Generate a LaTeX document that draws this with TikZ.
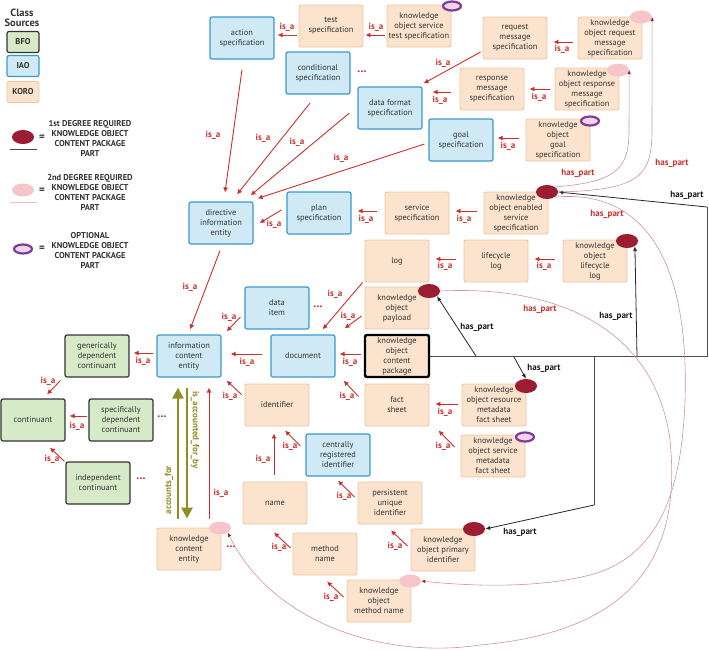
\documentclass[tikz,border=0pt]{standalone}
\usepackage{fontspec}
\setmainfont{PT Sans}
\usetikzlibrary{arrows.meta,calc,shapes.geometric}
\definecolor{bfofill}{HTML}{D6EAC8}
\definecolor{bfodraw}{HTML}{333333}
\definecolor{iaofill}{HTML}{CFEAF4}
\definecolor{iaodraw}{HTML}{3A9AD0}
\definecolor{korofill}{HTML}{FCE3CD}
\definecolor{korodraw}{HTML}{F0C6A0}
\definecolor{isared}{HTML}{C9302C}
\definecolor{maroonc}{HTML}{9C1C32}
\definecolor{pinkell}{HTML}{F6C5CA}
\definecolor{pinkline}{HTML}{CF9499}
\definecolor{purp}{HTML}{7D3C98}
\definecolor{purpfill}{HTML}{F2D4EA}
\definecolor{olivec}{HTML}{8E8E22}
\definecolor{txt}{HTML}{333333}
\begin{document}
\begin{tikzpicture}[x={(1pt,0pt)},y={(0pt,-1pt)},
  box/.style={rectangle, rounded corners=2pt, minimum width=64pt, minimum height=42pt, inner sep=1pt, align=center, font=\fontsize{8.4}{10}\selectfont, text=txt},
  bfo/.style={box, fill=bfofill, draw=bfodraw, line width=1.2pt},
  iao/.style={box, fill=iaofill, draw=iaodraw, line width=1.2pt},
  koro/.style={box, fill=korofill, draw=korodraw, line width=0.9pt},
  lbox/.style={rectangle, rounded corners=2pt, minimum width=32pt, minimum height=21pt, inner sep=0pt, font=\fontsize{8.5}{9}\selectfont\bfseries, text=txt},
  isa/.style={draw=isared, line width=0.9pt, -{Latex[length=5pt,width=5pt]}},
  isal/.style={text=isared, inner sep=0pt, font=\fontsize{9}{10}\selectfont\bfseries},
  hpb/.style={draw=black!85, line width=0.8pt, -{Latex[length=5pt,width=4pt]}},
  hpline/.style={draw=black!70, line width=1pt},
  hpl/.style={inner sep=0pt, text=black!90, font=\fontsize{9}{10}\selectfont\bfseries},
  hpp/.style={draw=pinkline, line width=0.6pt, -{Latex[length=4pt,width=3.5pt,color=maroonc]}},
  hppl/.style={inner sep=0pt, text=isared, font=\fontsize{9}{10}\selectfont\bfseries},
  dotsn/.style={inner sep=0pt, text=isared, font=\fontsize{12}{12}\selectfont\bfseries},
  eone/.style={ellipse, fill=maroonc, minimum width=22pt, minimum height=14pt, inner sep=0pt},
  etwo/.style={ellipse, fill=pinkell, minimum width=22pt, minimum height=13pt, inner sep=0pt},
  eopt/.style={ellipse, draw=purp, line width=2.2pt, fill=purpfill, minimum width=18pt, minimum height=9pt, inner sep=0pt},
  legt/.style={align=center, inner sep=0pt, text=txt, font=\fontsize{8.5}{10}\selectfont\bfseries},
  olv/.style={draw=olivec, line width=2.6pt, -{Triangle[length=11pt,width=11pt]}},
  olvl/.style={inner sep=0pt, text=olivec, font=\fontsize{9}{10}\selectfont\bfseries}
]
\useasboundingbox (0,0) rectangle (709,649);

% ---------- legend ----------
\node[align=center, text=txt, font=\fontsize{10.5}{10}\selectfont\bfseries] (cs) at (22,18) {Class\\Sources};
\node[lbox, fill=bfofill, draw=bfodraw, line width=1.2pt] (lbfo) at (23,42) {BFO};
\node[lbox, fill=iaofill, draw=iaodraw, line width=1.2pt] (liao) at (23,66) {IAO};
\node[lbox, fill=korofill, draw=korodraw, line width=0.9pt] (lkoro) at (23,92) {KORO};
\node[eone] (l1) at (23,137) {};
\draw[black!70, line width=1pt] ($(l1.south)+(-13,5.5)$) -- ($(l1.south)+(14,5.5)$);
\node[inner sep=0pt, font=\fontsize{11}{11}\selectfont\bfseries, text=txt] (eq1) at (42,138) {=};
\node[legt] (lt1) at (90,138) {1st DEGREE REQUIRED\\KNOWLEDGE OBJECT\\CONTENT PACKAGE\\PART};
\node[etwo] (l2) at (23,190) {};
\draw[pinkell!80!pinkline, line width=1pt] ($(l2.south)+(-13,5.5)$) -- ($(l2.south)+(14,5.5)$);
\node[inner sep=0pt, font=\fontsize{11}{11}\selectfont\bfseries, text=txt] (eq2) at (42,191) {=};
\node[legt] (lt2) at (90,192) {2nd DEGREE REQUIRED\\KNOWLEDGE OBJECT\\CONTENT PACKAGE\\PART};
\node[eopt] (l3) at (23,249) {};
\node[inner sep=0pt, font=\fontsize{11}{11}\selectfont\bfseries, text=txt] (eq3) at (42,249) {=};
\node[legt] (lt3) at (90,250) {OPTIONAL\\KNOWLEDGE OBJECT\\CONTENT PACKAGE\\PART};

% ---------- boxes ----------
\node[iao] (act) at (242,38) {action\\specification};
\node[koro] (tst) at (331,26) {test\\specification};
\node[koro] (kost) at (419,26) {knowledge\\object service\\test specification};
\node[iao] (cond) at (318,73) {conditional\\specification};
\node[iao] (dfs) at (390,108) {data format\\specification};
\node[iao] (goal) at (461,140) {goal\\specification};
\node[koro] (req) at (515,38) {request\\message\\specification};
\node[koro] (kor) at (610,38) {knowledge\\object request\\message\\specification};
\node[koro] (resp) at (492,89) {response\\message\\specification};
\node[koro] (kors) at (587,89) {knowledge\\object response\\message\\specification};
\node[koro] (kog) at (558,140) {knowledge\\object\\goal\\specification};
\node[iao] (dir) at (221,223) {directive\\information\\entity};
\node[iao] (plan) at (319,213) {plan\\specification};
\node[koro] (svc) at (417,213) {service\\specification};
\node[koro] (koes) at (516,213) {knowledge\\object enabled\\service\\specification};
\node[koro] (log) at (397,261) {log};
\node[koro] (lcl) at (496,261) {lifecycle\\log};
\node[koro] (kol) at (595,261) {knowledge\\object\\lifecycle\\log};
\node[iao] (ditem) at (277,308) {data\\item};
\node[koro] (kop) at (397,308) {knowledge\\object\\payload};
\node[iao] (ice) at (189,356) {information\\content\\entity};
\node[iao] (doc) at (303,356) {document};
\node[box, fill=korofill, draw=black, line width=2.4pt] (pkg) at (397,356) {knowledge\\object\\content\\package};
\node[bfo] (gdc) at (97,356) {generically\\dependent\\continuant};
\node[bfo] (cont) at (33,420) {continuant};
\node[bfo] (sdc) at (121,420) {specifically\\dependent\\continuant};
\node[bfo] (indc) at (98,483) {independent\\continuant};
\node[koro] (ident) at (277,405) {identifier};
\node[koro] (fs) at (397,405) {fact\\sheet};
\node[koro] (korm) at (494,405) {knowledge\\object resource\\metadata\\fact sheet};
\node[koro] (kosm) at (493,456) {knowledge\\object service\\metadata\\fact sheet};
\node[iao] (cri) at (338,455) {centrally\\registered\\identifier};
\node[koro] (name) at (275,503) {name};
\node[koro] (pui) at (390,503) {persistent\\unique\\identifier};
\node[koro] (mname) at (325,554) {method\\name};
\node[koro] (kopi) at (443,550) {knowledge\\object primary\\identifier};
\node[koro] (komn) at (379,601) {knowledge\\object\\method name};
\node[koro] (kce) at (189,549) {knowledge\\content\\entity};

% ---------- part markers ----------
\node[eopt] (kostE) at (452,6) {};
\node[etwo] (korE) at (641,17) {};
\node[etwo] (korsE) at (618,70) {};
\node[eopt] (kogE) at (590,121) {};
\node[eone] (koesE) at (547,192) {};
\node[eone] (kolE) at (627,241) {};
\node[eone] (kopE) at (429,291) {};
\node[eone] (kormE) at (526,386) {};
\node[eopt] (kosmE) at (525,437) {};
\node[eone] (kopiE) at (474,529) {};
\node[etwo] (komnE) at (410,581) {};
\node[etwo] (kceE) at (220,528) {};

% ---------- dots ----------
\node[dotsn] (d1) at (362,72) {...};
\node[dotsn] (d2) at (318,307) {...};
\node[dotsn] (d3) at (162,417) {...};
\node[dotsn] (d4) at (141,479) {...};
\node[dotsn] (d5) at (231,547) {...};

% ---------- is_a ----------
\draw[isa] ($(tst.west)+(-2,9)$) -- ($(act.east)+(3,-3)$);
\node[isal] (i1) at (287,27) {is\_a};
\draw[isa] ($(kost.west)+(-2,9)$) -- ($(tst.east)+(2,9)$);
\node[isal] (i2) at (376,27) {is\_a};
\draw[isa] ($(act.south)+(0,10)$) -- ($(dir.north)+(4,-9)$);
\node[isal] (i3) at (213,135) {is\_a};
\draw[isa] ($(cond.south)+(-8,8.5)$) -- ($(dir.north)+(16,-7)$);
\node[isal] (i4) at (263,138) {is\_a};
\draw[isa] ($(dfs.west)+(-8,5)$) -- ($(dir.north east)+(-3,-6)$);
\node[isal] (i5) at (297,142) {is\_a};
\draw[isa] ($(goal.west)+(-4,4)$) -- ($(dir.north east)+(4,-3)$);
\node[isal] (i6) at (341,158) {is\_a};
\draw[isa] ($(req.west)+(-2,14)$) -- ($(dfs.north east)+(1,-3)$);
\node[isal] (i7) at (443,63) {is\_a};
\draw[isa] ($(resp.west)+(-9,3)$) -- ($(dfs.east)+(10,-16)$);
\node[isal] (i8) at (440,100) {is\_a};
\draw[isa] ($(kor.west)+(-5,4)$) -- ($(req.east)+(6,4)$);
\node[isal] (i9) at (562,49) {is\_a};
\draw[isa] ($(kors.west)+(-5,0)$) -- ($(resp.east)+(5,0)$);
\node[isal] (i10) at (539,97) {is\_a};
\draw[isa] ($(kog.west)+(-7,-2)$) -- ($(goal.east)+(4,-2)$);
\node[isal] (i11) at (508,146) {is\_a};
\draw[isa] ($(plan.west)+(-5,-3)$) -- ($(dir.east)+(6,0)$);
\node[isal] (i12) at (274,224) {is\_a};
\draw[isa] ($(svc.west)+(-8,-2)$) -- ($(plan.east)+(6,-2)$);
\node[isal] (i13) at (366,219) {is\_a};
\draw[isa] ($(koes.west)+(-7,-2)$) -- ($(svc.east)+(6,-2)$);
\node[isal] (i14) at (464,219) {is\_a};
\draw[isa] ($(dir.south)+(-1,6)$) -- ($(ice.north)+(1,-5)$);
\node[isal] (i15) at (190,287) {is\_a};
\draw[isa] ($(lcl.west)+(-8,-2)$) -- ($(log.east)+(6,-2)$);
\node[isal] (i16) at (445,266) {is\_a};
\draw[isa] ($(kol.west)+(-8,-2)$) -- ($(lcl.east)+(6,-2)$);
\node[isal] (i17) at (544,266) {is\_a};
\draw[isa] ($(log.south west)+(-2,0)$) -- ($(doc.north east)+(-13,-5)$);
\node[isal] (i18) at (335,294) {is\_a};
\draw[isa] ($(kop.west)+(-3,8)$) -- ($(doc.north east)+(9,-6)$);
\node[isal] (i19) at (348,316) {is\_a};
\draw[isa] ($(ditem.west)+(-4,9)$) -- ($(ice.north east)+(5,-3)$);
\node[isal] (i20) at (229,317) {is\_a};
\draw[isa] ($(doc.west)+(-8,-2)$) -- ($(ice.east)+(9,-2)$);
\node[isal] (i21) at (247,362) {is\_a};
\draw[isa] ($(pkg.west)+(-3,-2)$) -- ($(doc.east)+(4,-2)$);
\node[isal] (i22) at (350,362) {is\_a};
\draw[isa] ($(ice.west)+(-3,-3)$) -- ($(gdc.east)+(4,-3)$);
\node[isal] (i23) at (143,361) {is\_a};
\draw[isa] ($(gdc.south west)+(-4,3)$) -- ($(cont.north)+(14,-4)$);
\node[isal] (i24) at (48,381) {is\_a};
\draw[isa] ($(sdc.west)+(-1,-4)$) -- ($(cont.east)+(4,-4)$);
\node[isal] (i25) at (77,426) {is\_a};
\draw[isa] ($(indc.north west)+(-1,0)$) -- ($(cont.south)+(17,6)$);
\node[isal] (i26) at (52,459) {is\_a};
\draw[isa] ($(ident.north west)+(-3,11)$) -- ($(ice.south east)+(5,3)$);
\node[isal] (i27) at (230,396) {is\_a};
\draw[isa] ($(fs.north west)+(-6,13)$) -- ($(doc.south east)+(8,3)$);
\node[isal] (i28) at (347,396) {is\_a};
\draw[isa] ($(korm.west)+(-4,-1)$) -- ($(fs.east)+(6,-1)$);
\node[isal] (i29) at (445,412) {is\_a};
\draw[isa] ($(kosm.west)+(-6,-9)$) -- ($(fs.south east)+(9,4)$);
\node[isal] (i30) at (443,446) {is\_a};
\draw[isa] ($(cri.west)+(-5,-9)$) -- ($(ident.south)+(8,4)$);
\node[isal] (i31) at (290,446) {is\_a};
\draw[isa] ($(name.north)+(-1,-7)$) -- ($(ident.south)+(-3,7)$);
\node[isal] (i32) at (263,459) {is\_a};
\draw[isa] ($(pui.west)+(-3,-6)$) -- ($(cri.south)+(0,4)$);
\node[isal] (i33) at (344,496) {is\_a};
\draw[isa] ($(mname.west)+(-2,-6)$) -- ($(name.south)+(-1,8)$);
\node[isal] (i34) at (279,547) {is\_a};
\draw[isa] ($(kopi.west)+(-3,-4)$) -- ($(pui.south)+(1,6)$);
\node[isal] (i35) at (395,546) {is\_a};
\draw[isa] ($(komn.west)+(-3,-4)$) -- ($(mname.south)+(2,6)$);
\node[isal] (i36) at (331,597) {is\_a};
\draw[isa] ($(kce.north)+(20,-9)$) -- ($(ice.south)+(20,10)$);
\node[isal] (i37) at (221,493) {is\_a};

% ---------- accounts_for ----------
\draw[olv] ($(kce.north)+(-11,-9)$) -- ($(ice.south)+(-11,10)$);
\node[olvl, rotate=90] (af) at (169,490) {accounts\_for};
\draw[olv] ($(ice.south)+(-2,10)$) -- ($(kce.north)+(-2,-9)$);
\node[olvl, rotate=-90] (iafb) at (195,430) {is\_accounted\_for\_by};

% ---------- has_part (1st degree) ----------
\coordinate (j1) at (707,356);
\coordinate (j2) at (707,207);
\coordinate (j3) at (594,356);
\coordinate (j4) at (594,505);
\coordinate (j5) at (637,356);
\coordinate (j6) at (476,356);
\coordinate (j7) at (514,357);
\draw[hpline] (pkg.east) -- (j1) -- (j2);
\draw[hpline] (j3) -- (j4);
\draw[hpb] (j2) -- (koesE.east);
\node[hpl] (h1) at (687,195) {has\_part};
\draw[hpb] (j4) -- (kopiE.east);
\node[hpl] (h2) at (520,532) {has\_part};
\draw[hpb] (j5) -- (kolE.south east);
\node[hpl] (h3) at (616,316) {has\_part};
\draw[hpb] (j6) -- (kopE.south east);
\node[hpl] (h4) at (477,327) {has\_part};
\draw[hpb] (j7) -- (kormE.north);
\node[hpl] (h5) at (544,368) {has\_part};

% ---------- has_part (2nd degree) ----------
\draw[hpp] (koesE.north east) .. controls (618,182) and (629,168) .. (629,130) -- (korsE.east);
\node[hppl] (p1) at (578,173) {has\_part};
\draw[hpp] (koesE.east) .. controls (640,190) and (652,176) .. (652,130) -- (korE.east);
\node[hppl] (p2) at (672,163) {has\_part};
\draw[hpp] (koesE.south east) .. controls (630,190) and (690,240) .. (685,400)
  .. controls (682,480) and (665,555) .. (590,575)
  .. controls (530,590) and (460,585) .. (komnE.east);
\node[hppl] (p3) at (607,214) {has\_part};
\draw[hpp] (kopE.east) .. controls (560,285) and (655,330) .. (670,440)
  .. controls (680,540) and (650,630) .. (480,645)
  .. controls (380,660) and (270,620) .. (kceE.south east);
\node[hppl] (p4) at (540,309) {has\_part};
\end{tikzpicture}
\end{document}
